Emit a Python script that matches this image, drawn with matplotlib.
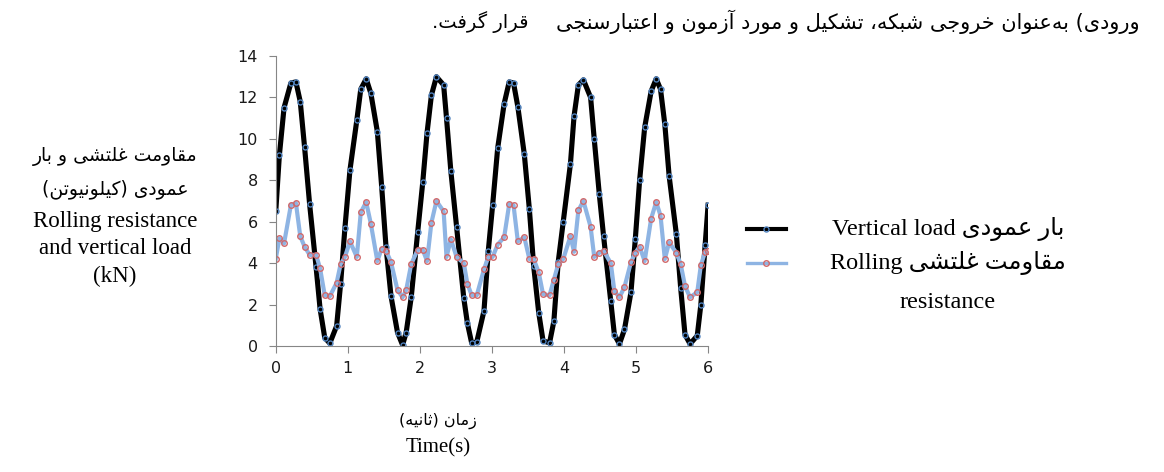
import matplotlib
matplotlib.use('Agg')
import matplotlib.pyplot as plt
from matplotlib.lines import Line2D

# sample times (s) shared by both series
time_s = [0.00, 0.05, 0.115, 0.21, 0.28, 0.34, 0.40, 0.47, 0.56, 0.615,
          0.68, 0.75, 0.845, 0.90, 0.96, 1.03, 1.125, 1.18, 1.255, 1.32,
          1.41, 1.47, 1.53, 1.60, 1.69, 1.76, 1.81, 1.88, 1.97, 2.04,
          2.10, 2.16, 2.23, 2.33, 2.37, 2.43, 2.51, 2.61, 2.66, 2.72,
          2.79, 2.89, 2.95, 3.01, 3.08, 3.17, 3.24, 3.30, 3.36, 3.45,
          3.52, 3.58, 3.65, 3.71, 3.80, 3.86, 3.92, 3.99, 4.09, 4.14,
          4.20, 4.27, 4.37, 4.42, 4.49, 4.55, 4.65, 4.70, 4.77, 4.84,
          4.93, 4.99, 5.05, 5.12, 5.21, 5.28, 5.34, 5.40, 5.46, 5.56,
          5.62, 5.68, 5.75, 5.85, 5.90, 5.96, 6.00]

# vertical load (kN)
vertical_load = [6.5, 9.2, 11.5, 12.7, 12.75, 11.8, 9.6, 6.85, 3.8, 1.8,
                 0.4, 0.13, 0.97, 3.0, 5.7, 8.5, 10.9, 12.4, 12.9, 12.2,
                 10.35, 7.7, 4.8, 2.4, 0.65, 0.05, 0.65, 2.35, 5.5, 7.9,
                 10.3, 12.1, 13.0, 12.6, 11.0, 8.45, 5.75, 2.3, 1.1, 0.13,
                 0.2, 1.7, 4.6, 6.8, 9.55, 11.7, 12.75, 12.7, 11.55, 9.25,
                 6.6, 3.85, 1.6, 0.25, 0.15, 1.2, 4.05, 6.0, 8.8, 11.1,
                 12.6, 12.85, 12.0, 10.0, 7.35, 5.3, 2.15, 0.55, 0.1, 0.8,
                 2.6, 5.15, 8.0, 10.55, 12.3, 12.9, 12.4, 10.7, 8.2, 5.4,
                 2.8, 0.55, 0.1, 0.5, 2.0, 4.9, 6.8]

# rolling resistance (kN)
rolling_resistance = [4.2, 5.2, 4.95, 6.8, 6.9, 5.3, 4.8, 4.4, 4.4, 3.75,
                      2.45, 2.4, 3.05, 3.95, 4.3, 5.05, 4.3, 6.45, 6.95, 5.9,
                      4.1, 4.7, 4.6, 4.05, 2.7, 2.35, 2.7, 3.95, 4.65, 4.65,
                      4.1, 5.95, 7.0, 6.5, 4.3, 5.15, 4.3, 4.0, 3.0, 2.45,
                      2.45, 3.7, 4.3, 4.3, 4.9, 5.25, 6.85, 6.8, 5.05, 5.25,
                      4.2, 4.2, 3.55, 2.5, 2.45, 3.2, 3.95, 4.2, 5.3, 4.55,
                      6.55, 7.0, 5.75, 4.3, 4.5, 4.6, 4.0, 2.65, 2.35, 2.85,
                      4.05, 4.5, 4.8, 4.1, 6.15, 6.95, 6.3, 4.2, 5.0, 4.5,
                      3.95, 2.9, 2.35, 2.6, 3.9, 4.55, 4.6]

x_ticks = [0, 1, 2, 3, 4, 5, 6]
y_ticks = [0, 2, 4, 6, 8, 10, 12, 14]

top_text = 'ورودی) به\u200cعنوان خروجی شبکه، تشکیل و مورد آزمون و اعتبارسنجی'
top_text_end = 'قرار گرفت.'
ylabel_fa = ['مقاومت غلتشی و بار', 'عمودی (کیلونیوتن)']
ylabel_en = ['Rolling resistance', 'and vertical load', '(kN)']
xlabel_fa = 'زمان (ثانیه)'
xlabel_en = 'Time(s)'
legend_fa = ['بار عمودی', 'مقاومت غلتشی']
legend_en = ['Vertical load', 'Rolling', 'resistance']

# matplotlib does no Arabic joining / RTL, so do it by hand with
# presentation forms: (isolated, final, initial, medial)
FORMS = {
    '\u0622': ('\uFE81', '\uFE82', None, None),
    '\u0627': ('\uFE8D', '\uFE8E', None, None),
    '\u0628': ('\uFE8F', '\uFE90', '\uFE91', '\uFE92'),
    '\u067E': ('\uFB56', '\uFB57', '\uFB58', '\uFB59'),
    '\u062A': ('\uFE95', '\uFE96', '\uFE97', '\uFE98'),
    '\u062B': ('\uFE99', '\uFE9A', '\uFE9B', '\uFE9C'),
    '\u062C': ('\uFE9D', '\uFE9E', '\uFE9F', '\uFEA0'),
    '\u0686': ('\uFB7A', '\uFB7B', '\uFB7C', '\uFB7D'),
    '\u062D': ('\uFEA1', '\uFEA2', '\uFEA3', '\uFEA4'),
    '\u062E': ('\uFEA5', '\uFEA6', '\uFEA7', '\uFEA8'),
    '\u062F': ('\uFEA9', '\uFEAA', None, None),
    '\u0630': ('\uFEAB', '\uFEAC', None, None),
    '\u0631': ('\uFEAD', '\uFEAE', None, None),
    '\u0632': ('\uFEAF', '\uFEB0', None, None),
    '\u0698': ('\uFB8A', '\uFB8B', None, None),
    '\u0633': ('\uFEB1', '\uFEB2', '\uFEB3', '\uFEB4'),
    '\u0634': ('\uFEB5', '\uFEB6', '\uFEB7', '\uFEB8'),
    '\u0639': ('\uFEC9', '\uFECA', '\uFECB', '\uFECC'),
    '\u063A': ('\uFECD', '\uFECE', '\uFECF', '\uFED0'),
    '\u0641': ('\uFED1', '\uFED2', '\uFED3', '\uFED4'),
    '\u0642': ('\uFED5', '\uFED6', '\uFED7', '\uFED8'),
    '\u06A9': ('\uFB8E', '\uFB8F', '\uFB90', '\uFB91'),
    '\u06AF': ('\uFB92', '\uFB93', '\uFB94', '\uFB95'),
    '\u0644': ('\uFEDD', '\uFEDE', '\uFEDF', '\uFEE0'),
    '\u0645': ('\uFEE1', '\uFEE2', '\uFEE3', '\uFEE4'),
    '\u0646': ('\uFEE5', '\uFEE6', '\uFEE7', '\uFEE8'),
    '\u0647': ('\uFEE9', '\uFEEA', '\uFEEB', '\uFEEC'),
    '\u0648': ('\uFEED', '\uFEEE', None, None),
    '\u06CC': ('\uFBFC', '\uFBFD', '\uFBFE', '\uFBFF'),
}


def rtl(text):
    out = []
    for i, c in enumerate(text):
        f = FORMS.get(c)
        if f is None:
            if c != '\u200c':
                out.append(c)
            continue
        prev = text[i - 1] if i > 0 else ''
        nxt = text[i + 1] if i + 1 < len(text) else ''
        join_prev = prev in FORMS and FORMS[prev][2] is not None
        join_next = f[2] is not None and nxt in FORMS
        if join_prev and join_next:
            out.append(f[3])
        elif join_prev:
            out.append(f[1])
        elif join_next:
            out.append(f[2])
        else:
            out.append(f[0])
    return ''.join(reversed(out)).translate(str.maketrans('()', ')('))


FA = ['DejaVu Sans']
EN = ['Liberation Serif', 'DejaVu Sans']
W, H = 1164, 472

fig = plt.figure(figsize=(W / 100, H / 100), dpi=100)
ax = fig.add_axes([0.2369, 0.2669, 0.3714, 0.6144])

load_style = dict(color='black', lw=3.7, marker='o', ms=3.6, mfc='none',
                  mec='#4f81bd', mew=1.0, solid_joinstyle='round')
roll_style = dict(color='#8eb4e3', lw=3.0, marker='o', ms=4.0, mfc='none',
                  mec='#d0686a', mew=1.0, solid_joinstyle='round')
ax.plot(time_s, vertical_load, **load_style)
ax.plot(time_s, rolling_resistance, **roll_style)

ax.set_xlim(0, 6)
ax.set_ylim(0, 14)
ax.set_xticks(x_ticks)
ax.set_yticks(y_ticks)
for s in ['top', 'right']:
    ax.spines[s].set_visible(False)
for s in ['left', 'bottom']:
    ax.spines[s].set_color('#868686')
ax.tick_params(direction='out', length=5, color='#868686', labelsize=11.5,
               labelcolor='#1a1a1a')
ax.tick_params(axis='y', pad=8)
ax.tick_params(axis='x', pad=6)
for lab in ax.get_xticklabels() + ax.get_yticklabels():
    lab.set_family('DejaVu Sans')

# paragraph text above the chart
fig.text(1140 / W, 1 - 22 / H, rtl(top_text), family=FA, fontsize=15,
         ha='right', va='center')
fig.text(528 / W, 1 - 22 / H, rtl(top_text_end), family=FA, fontsize=14,
         ha='right', va='center')

# y label, stacked lines
yl_rows = [157, 189, 221, 248, 276]
for txt, yp in zip(ylabel_fa, yl_rows[:2]):
    fig.text(115 / W, 1 - yp / H, rtl(txt), family=FA, fontsize=13.5,
             ha='center', va='center')
for txt, yp in zip(ylabel_en, yl_rows[2:]):
    fig.text(115 / W, 1 - yp / H, txt, family=EN, fontsize=16.5,
             ha='center', va='center')

# x label
fig.text(438 / W, 1 - 421 / H, rtl(xlabel_fa), family=FA, fontsize=11.5,
         ha='center', va='center')
fig.text(438 / W, 1 - 448 / H, xlabel_en, family=EN, fontsize=15,
         ha='center', va='center')

# legend, drawn by hand to get the Persian/English layout
for style, yp in [(load_style, 229), (roll_style, 263)]:
    y = 1 - yp / H
    fig.add_artist(Line2D([747 / W, 786 / W], [y, y], color=style['color'],
                          lw=style['lw'] * 0.8))
    fig.add_artist(Line2D([766 / W], [y], marker='o', ms=style['ms'],
                          mfc='none', mec=style['mec'], mew=style['mew']))
fig.text(948 / W, 1 - 229 / H,
         legend_en[0] + ' ' + rtl(legend_fa[0]), family=EN, fontsize=17.5,
         ha='center', va='center')
fig.text(948 / W, 1 - 263 / H,
         legend_en[1] + ' ' + rtl(legend_fa[1]), family=EN, fontsize=17.5,
         ha='center', va='center')
fig.text(948 / W, 1 - 302 / H, legend_en[2], family=EN, fontsize=17.5,
         ha='center', va='center')

fig.savefig('out.png', dpi=100)
